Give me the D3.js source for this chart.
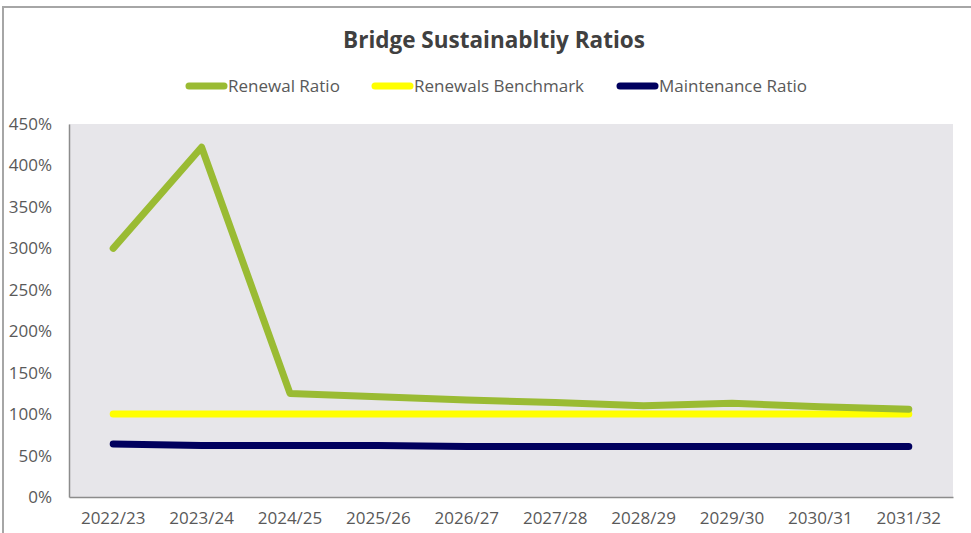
<!DOCTYPE html>
<html>
<head>
<meta charset="utf-8">
<title>Bridge Sustainability Ratios</title>
<script src="https://cdn.jsdelivr.net/npm/d3@7"></script>
<style>
body { margin: 0; background: #fff; }
text { font-family: 'Open Sans', sans-serif; fill: #595959; }
.title { font-weight: 700; fill: #404040; }
</style>
</head>
<body>
<script>
// chart data
var years = ["2022/23", "2023/24", "2024/25", "2025/26", "2026/27", "2027/28", "2028/29", "2029/30", "2030/31", "2031/32"];
var renewalRatio = [3.00, 4.22, 1.25, 1.21, 1.17, 1.14, 1.10, 1.13, 1.09, 1.06];
var renewalsBenchmark = [1, 1, 1, 1, 1, 1, 1, 1, 1, 1];
var maintenanceRatio = [0.64, 0.62, 0.62, 0.62, 0.61, 0.61, 0.61, 0.61, 0.61, 0.61];
var yTicks = [0, 0.5, 1, 1.5, 2, 2.5, 3, 3.5, 4, 4.5];

var series = [
  {name: "Renewal Ratio", values: renewalRatio, color: "#9abb33"},
  {name: "Renewals Benchmark", values: renewalsBenchmark, color: "#ffff00"},
  {name: "Maintenance Ratio", values: maintenanceRatio, color: "#00005e"}
];

var w = 971, h = 533;
var plotLeft = 69, plotRight = 953, plotTop = 124, plotBottom = 497;

var svg = d3.select("body").append("svg")
  .attr("width", w)
  .attr("height", h);

// outer frame
svg.append("rect")
  .attr("x", 3).attr("y", 7)
  .attr("width", w + 10).attr("height", h + 10)
  .attr("fill", "none")
  .attr("stroke", "#a6a6a6")
  .attr("stroke-width", 2);

var x = d3.scaleBand().domain(years).range([plotLeft, plotRight]);
var y = d3.scaleLinear().domain([0, 4.5]).range([plotBottom, plotTop]);

// plot area
svg.append("rect")
  .attr("x", plotLeft).attr("y", plotTop)
  .attr("width", plotRight - plotLeft).attr("height", plotBottom - plotTop)
  .attr("fill", "#e7e6ea");

// axes
var yAxis = svg.append("g")
  .attr("transform", "translate(" + plotLeft + ",0)")
  .call(d3.axisLeft(y).tickValues(yTicks).tickFormat(d3.format(".0%")).tickSize(0).tickPadding(17));
yAxis.select(".domain").attr("stroke", "#8c8c8c").attr("stroke-width", 1.5);
yAxis.selectAll("text").attr("font-size", "17px").attr("font-family", "'Open Sans', sans-serif").attr("fill", "#595959");

var xAxis = svg.append("g")
  .attr("transform", "translate(0," + plotBottom + ")")
  .call(d3.axisBottom(x).tickSize(0).tickPadding(15));
xAxis.select(".domain").attr("stroke", "#8c8c8c").attr("stroke-width", 1.5);
xAxis.selectAll("text").attr("font-size", "17px").attr("font-family", "'Open Sans', sans-serif").attr("fill", "#595959");

// lines
var line = d3.line()
  .x(function(d, i) { return x(years[i]) + x.bandwidth() / 2; })
  .y(function(d) { return y(d); });

// draw benchmark first, then renewal on top, maintenance last
[1, 0, 2].forEach(function(k) {
  var s = series[k];
  svg.append("path")
    .datum(s.values)
    .attr("d", line)
    .attr("fill", "none")
    .attr("stroke", s.color)
    .attr("stroke-width", 7)
    .attr("stroke-linecap", "round")
    .attr("stroke-linejoin", "round");
});

// title
svg.append("text")
  .attr("class", "title")
  .attr("x", 494).attr("y", 48)
  .attr("text-anchor", "middle")
  .attr("font-size", "22.5px")
  .text("Bridge Sustainabltiy Ratios");

// legend
var legendX = [186, 372, 617];
series.forEach(function(s, i) {
  var g = svg.append("g").attr("transform", "translate(" + legendX[i] + ",86)");
  g.append("line")
    .attr("x1", 3).attr("x2", 38)
    .attr("stroke", s.color)
    .attr("stroke-width", 7)
    .attr("stroke-linecap", "round");
  g.append("text")
    .attr("x", 42).attr("y", 6)
    .attr("font-size", "17px")
    .text(s.name);
});
</script>
</body>
</html>
